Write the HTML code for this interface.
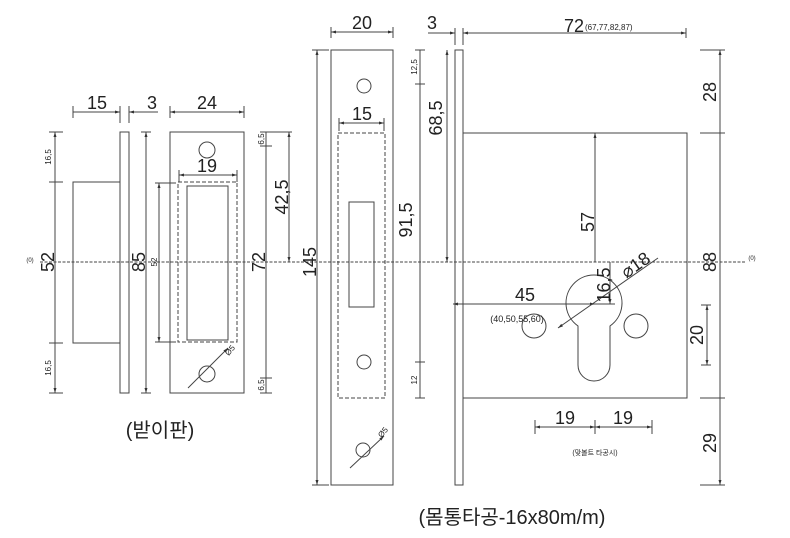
<!DOCTYPE html>
<html><head><meta charset="utf-8"><style>
html,body{margin:0;padding:0;background:#fff;}
svg{display:block;}
text{font-family:"Liberation Sans","Noto Sans CJK KR",sans-serif;fill:#222;}
</style></head><body>
<svg width="790" height="538" viewBox="0 0 790 538" xmlns="http://www.w3.org/2000/svg">
<defs>
<marker id="a" viewBox="0 0 10 10" refX="10" refY="5" markerWidth="6" markerHeight="5" orient="auto-start-reverse"><path d="M0,2L10,5L0,8z" fill="#333"/></marker>
</defs>
<g stroke="#444" stroke-width="1" fill="none">
<line x1="40" y1="262" x2="745" y2="262" stroke-dasharray="3,1.5"/>
<rect x="73" y="182" width="47" height="161"/>
<rect x="120" y="132" width="9" height="261"/>
<rect x="170" y="132" width="74" height="261"/>
<circle cx="207" cy="150" r="8"/>
<circle cx="207" cy="374" r="8"/>
<rect x="178" y="182" width="59" height="160" stroke-dasharray="4,2"/>
<rect x="187" y="186" width="41" height="154"/>
<line x1="55" y1="132" x2="55" y2="393" marker-start="url(#a)" marker-end="url(#a)"/>
<line x1="49" y1="132" x2="63" y2="132"/><line x1="49" y1="182" x2="63" y2="182"/><line x1="49" y1="343" x2="63" y2="343"/><line x1="49" y1="393" x2="63" y2="393"/>
<line x1="146" y1="132" x2="146" y2="393" marker-start="url(#a)" marker-end="url(#a)"/>
<line x1="141" y1="132" x2="151" y2="132"/><line x1="141" y1="393" x2="151" y2="393"/>
<line x1="159" y1="183" x2="159" y2="342" marker-start="url(#a)" marker-end="url(#a)"/>
<line x1="155" y1="183" x2="176" y2="183"/><line x1="155" y1="342" x2="176" y2="342"/>
<line x1="73" y1="112" x2="120" y2="112" marker-end="url(#a)"/><line x1="73" y1="106" x2="73" y2="118"/><line x1="120" y1="106" x2="120" y2="123"/>
<line x1="129" y1="112" x2="158" y2="112" marker-start="url(#a)"/><line x1="129" y1="106" x2="129" y2="123"/>
<line x1="170" y1="112" x2="244" y2="112" marker-start="url(#a)" marker-end="url(#a)"/><line x1="170" y1="106" x2="170" y2="118"/><line x1="244" y1="106" x2="244" y2="118"/>
<line x1="179" y1="175" x2="237" y2="175" marker-start="url(#a)" marker-end="url(#a)"/><line x1="179" y1="170" x2="179" y2="182"/><line x1="237" y1="170" x2="237" y2="182"/>
<line x1="266" y1="132" x2="266" y2="393"/>
<line x1="260" y1="132" x2="292" y2="132"/><line x1="260" y1="146" x2="272" y2="146"/><line x1="260" y1="378" x2="272" y2="378"/><line x1="260" y1="393" x2="272" y2="393"/>
<line x1="289" y1="132" x2="289" y2="262" marker-start="url(#a)" marker-end="url(#a)"/>
<line x1="188" y1="388" x2="228" y2="348" marker-end="url(#a)"/>
<rect x="331" y="50" width="62" height="435"/>
<circle cx="364" cy="86" r="7"/><circle cx="364" cy="362" r="7"/>
<rect x="338" y="133" width="47" height="265" stroke-dasharray="4,2"/>
<rect x="349" y="202" width="25" height="105"/>
<line x1="317" y1="50" x2="317" y2="485" marker-start="url(#a)" marker-end="url(#a)"/>
<line x1="312" y1="50" x2="329" y2="50"/><line x1="312" y1="485" x2="329" y2="485"/>
<line x1="331" y1="32" x2="393" y2="32" marker-start="url(#a)" marker-end="url(#a)"/><line x1="331" y1="27" x2="331" y2="38"/><line x1="393" y1="27" x2="393" y2="38"/>
<line x1="339" y1="123" x2="384" y2="123" marker-start="url(#a)" marker-end="url(#a)"/><line x1="339" y1="118" x2="339" y2="131"/><line x1="384" y1="118" x2="384" y2="131"/>
<line x1="420" y1="50" x2="420" y2="398"/>
<line x1="415" y1="50" x2="425" y2="50"/><line x1="415" y1="84" x2="425" y2="84"/><line x1="415" y1="362" x2="425" y2="362"/><line x1="415" y1="398" x2="425" y2="398"/>
<line x1="447" y1="50" x2="447" y2="262" marker-start="url(#a)" marker-end="url(#a)"/>
<line x1="350" y1="468" x2="384" y2="436" marker-end="url(#a)"/>
<circle cx="363" cy="450" r="7"/>
<rect x="455" y="50" width="8" height="435"/>
<rect x="463" y="133" width="224" height="265"/>
<line x1="455" y1="28" x2="455" y2="45"/><line x1="463" y1="28" x2="463" y2="45"/>
<line x1="428" y1="33" x2="455" y2="33" marker-end="url(#a)"/>
<line x1="463" y1="33" x2="686" y2="33" marker-start="url(#a)" marker-end="url(#a)"/><line x1="686" y1="28" x2="686" y2="38"/>
<line x1="595" y1="133" x2="595" y2="262" marker-start="url(#a)"/>
<path d="M578,326 A28,28 0 1 1 610,326 L610,365 A16,16 0 0 1 578,365 Z"/>
<circle cx="534" cy="326" r="12"/><circle cx="636" cy="326" r="12"/>
<line x1="610" y1="262" x2="610" y2="304" marker-end="url(#a)"/><line x1="595" y1="304" x2="615" y2="304"/>
<line x1="453" y1="304" x2="595" y2="304" marker-start="url(#a)" marker-end="url(#a)"/>
<line x1="558" y1="328" x2="658" y2="258" marker-start="url(#a)"/>
<line x1="720" y1="50" x2="720" y2="485" marker-start="url(#a)" marker-end="url(#a)"/>
<line x1="700" y1="50" x2="725" y2="50"/><line x1="700" y1="133" x2="725" y2="133"/><line x1="700" y1="398" x2="725" y2="398"/><line x1="700" y1="485" x2="725" y2="485"/>
<line x1="707" y1="305" x2="707" y2="365" marker-start="url(#a)" marker-end="url(#a)"/><line x1="701" y1="305" x2="711" y2="305"/><line x1="701" y1="365" x2="711" y2="365"/>
<line x1="535" y1="427" x2="595" y2="427" marker-start="url(#a)" marker-end="url(#a)"/>
<line x1="595" y1="427" x2="652" y2="427" marker-start="url(#a)" marker-end="url(#a)"/>
<line x1="535" y1="420" x2="535" y2="434"/><line x1="595" y1="420" x2="595" y2="434"/><line x1="652" y1="420" x2="652" y2="434"/>
</g>
<g font-size="18">
<text x="97" y="109" text-anchor="middle">15</text>
<text x="152" y="109" text-anchor="middle">3</text>
<text x="207" y="109" text-anchor="middle">24</text>
<text x="207" y="172" text-anchor="middle">19</text>
<text x="362" y="29" text-anchor="middle">20</text>
<text x="432" y="29" text-anchor="middle">3</text>
<text x="362" y="120" text-anchor="middle">15</text>
<text x="574" y="32" text-anchor="middle">72</text>
<text x="525" y="301" text-anchor="middle">45</text>
<text x="565" y="424" text-anchor="middle">19</text>
<text x="623" y="424" text-anchor="middle">19</text>
<text transform="translate(54,262) rotate(-90)" text-anchor="middle">52</text>
<text transform="translate(145,262) rotate(-90)" text-anchor="middle">85</text>
<text transform="translate(265,262) rotate(-90)" text-anchor="middle">72</text>
<text transform="translate(288,197) rotate(-90)" text-anchor="middle">42,5</text>
<text transform="translate(316,262) rotate(-90)" text-anchor="middle">145</text>
<text transform="translate(412,220) rotate(-90)" text-anchor="middle">91,5</text>
<text transform="translate(442,118) rotate(-90)" text-anchor="middle">68,5</text>
<text transform="translate(594,222) rotate(-90)" text-anchor="middle">57</text>
<text transform="translate(610,285) rotate(-90)" text-anchor="middle">16,5</text>
<text transform="translate(639,270) rotate(-35)" text-anchor="middle">⌀18</text>
<text transform="translate(716,92) rotate(-90)" text-anchor="middle">28</text>
<text transform="translate(716,262) rotate(-90)" text-anchor="middle">88</text>
<text transform="translate(716,443) rotate(-90)" text-anchor="middle">29</text>
<text transform="translate(703,335) rotate(-90)" text-anchor="middle">20</text>
</g>
<g font-size="8">
<text transform="translate(51,157) rotate(-90)" text-anchor="middle">16,5</text>
<text transform="translate(51,368) rotate(-90)" text-anchor="middle">16,5</text>
<text transform="translate(157,262) rotate(-90)" text-anchor="middle">52</text>
<text transform="translate(264,139) rotate(-90)" text-anchor="middle">6,5</text>
<text transform="translate(264,385) rotate(-90)" text-anchor="middle">6,5</text>
<text transform="translate(417,67) rotate(-90)" text-anchor="middle">12,5</text>
<text transform="translate(417,380) rotate(-90)" text-anchor="middle">12</text>
<text transform="translate(232,352) rotate(-50)" text-anchor="middle">Ø5</text>
<text transform="translate(385,434) rotate(-50)" text-anchor="middle">Ø5</text>
<text x="30" y="262" font-size="6" text-anchor="middle">(0)</text>
<text x="752" y="260" font-size="6" text-anchor="middle">(0)</text>
<text x="585" y="30" font-size="8">(67,77,82,87)</text>
<text x="517" y="322" font-size="9" text-anchor="middle">(40,50,55,60)</text>
<text x="595" y="455" font-size="7" text-anchor="middle">(맞볼트 타공시)</text>
</g>
<text x="160" y="437" font-size="20" text-anchor="middle">(받이판)</text>
<text x="512" y="524" font-size="20" text-anchor="middle">(몸통타공-16x80m/m)</text>
</svg>
</body></html>
